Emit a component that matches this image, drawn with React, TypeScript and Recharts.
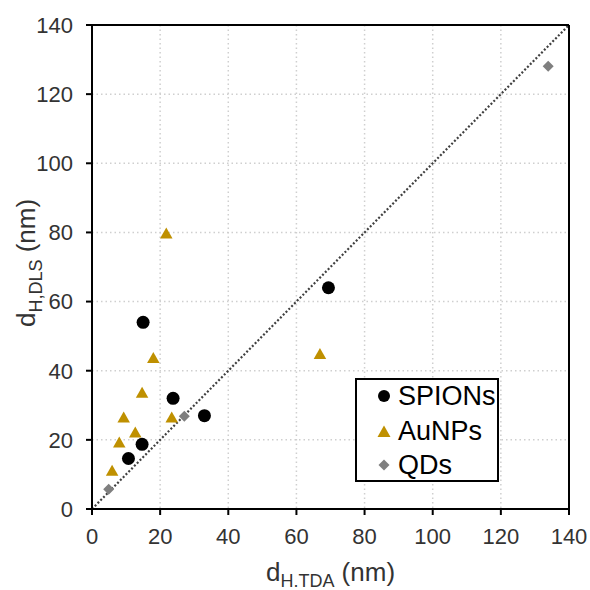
import React from 'react';
import {
  ScatterChart,
  Scatter,
  XAxis,
  YAxis,
  CartesianGrid,
  ReferenceLine,
  Legend,
  Label,
} from 'recharts';

const axisTicks = [0, 20, 40, 60, 80, 100, 120, 140];

const spionsX = [15, 23.8, 33, 14.7, 10.7, 69.4];
const spionsY = [54, 32, 27, 18.7, 14.6, 64];

const aunpsX = [18, 14.7, 9.3, 23.4, 12.7, 8, 5.9, 21.8, 66.9];
const aunpsY = [43.8, 33.8, 26.6, 26.6, 22.3, 19.4, 11.2, 79.8, 45];

const qdsX = [4.9, 27.1, 133.9];
const qdsY = [5.7, 26.8, 128.1];

const seriesNames = ['SPIONs', 'AuNPs', 'QDs'];
const GOLD = '#BF9000';
const GRAY = '#7F7F7F';
const FONT = '"Liberation Sans", Arial, sans-serif';

const toPoints = (xs: number[], ys: number[]) => xs.map((x, i) => ({ x, y: ys[i] }));

const spions = toPoints(spionsX, spionsY);
const aunps = toPoints(aunpsX, aunpsY);
const qds = toPoints(qdsX, qdsY);

const Circle = (props: any) => {
  const { cx, cy } = props;
  if (cx == null || cy == null) return null;
  return <circle cx={cx} cy={cy} r={6.5} fill="#000" />;
};

const Triangle = (props: any) => {
  const { cx, cy } = props;
  if (cx == null || cy == null) return null;
  const w = 12.5;
  const h = 11;
  return (
    <polygon
      points={`${cx - w / 2},${cy + h / 2} ${cx + w / 2},${cy + h / 2} ${cx},${cy - h / 2}`}
      fill={GOLD}
    />
  );
};

const Diamond = (props: any) => {
  const { cx, cy } = props;
  if (cx == null || cy == null) return null;
  const s = 5.5;
  return (
    <polygon
      points={`${cx},${cy - s} ${cx + s},${cy} ${cx},${cy + s} ${cx - s},${cy}`}
      fill={GRAY}
    />
  );
};

const legendMarkers = [
  <circle cx={8} cy={8} r={6} fill="#000" />,
  <polygon points="1.5,14 14.5,14 8,2.5" fill={GOLD} />,
  <polygon points="8,2.5 13.5,8 8,13.5 2.5,8" fill={GRAY} />,
];

const LegendContent = () => (
  <div
    style={{
      width: 144,
      height: 104,
      border: '2px solid #000',
      boxSizing: 'border-box',
      background: '#fff',
      position: 'relative',
      fontFamily: FONT,
    }}
  >
    {seriesNames.map((name, i) => (
      <div
        key={name}
        style={{
          position: 'absolute',
          left: 19,
          top: i * 34.5,
          height: 32,
          display: 'flex',
          alignItems: 'center',
        }}
      >
        <svg width={16} height={16} style={{ marginRight: 6 }}>
          {legendMarkers[i]}
        </svg>
        <span style={{ fontSize: 27, color: '#000', lineHeight: '32px' }}>{name}</span>
      </div>
    ))}
  </div>
);

const XLabel = (props: any) => {
  const vb = props.viewBox || { x: 92, y: 509, width: 477, height: 81 };
  const cx = vb.x + vb.width / 2;
  const by = vb.y + 72;
  return (
    <text x={cx} y={by} textAnchor="middle" fontFamily={FONT} fontSize={26} fill="#333">
      <tspan>d</tspan>
      <tspan fontSize={18} dy={6}>H.TDA</tspan>
      <tspan dy={-6}> (nm)</tspan>
    </text>
  );
};

const YLabel = (props: any) => {
  const vb = props.viewBox || { x: 0, y: 25, width: 92, height: 484 };
  const bx = vb.x + 35;
  const cy = vb.y + vb.height / 2 - 4;
  return (
    <text
      x={bx}
      y={cy}
      textAnchor="middle"
      fontFamily={FONT}
      fontSize={26}
      fill="#333"
      transform={`rotate(-90, ${bx}, ${cy})`}
    >
      <tspan>d</tspan>
      <tspan fontSize={18} dy={7}>H,DLS</tspan>
      <tspan dy={-7}> (nm)</tspan>
    </text>
  );
};

const tickStyle = { fontFamily: FONT, fontSize: 22, fill: '#333' };

export default function App() {
  return (
    <div>
      <style>{'html,body{overflow:hidden;margin:0;padding:0;} svg.recharts-surface{overflow:visible;}'}</style>
      <ScatterChart
        width={590}
        height={590}
        margin={{ top: 25, right: 21, left: 0, bottom: 0 }}
        style={{ background: '#fff' }}
      >
        <CartesianGrid stroke="#cfcfcf" strokeWidth={1.5} strokeDasharray="1.5 3" />
        <XAxis
          type="number"
          dataKey="x"
          domain={[0, 140]}
          ticks={axisTicks}
          interval={0}
          height={81}
          axisLine={{ stroke: '#000', strokeWidth: 2 }}
          tickLine={{ stroke: '#000', strokeWidth: 2 }}
          tickSize={6}
          tickMargin={13}
          tick={tickStyle}
          allowDataOverflow
        >
          <Label content={<XLabel />} position="insideBottom" />
        </XAxis>
        <YAxis
          type="number"
          dataKey="y"
          domain={[0, 140]}
          ticks={axisTicks}
          interval={0}
          width={92}
          axisLine={{ stroke: '#000', strokeWidth: 2 }}
          tickLine={{ stroke: '#000', strokeWidth: 2 }}
          tickSize={6}
          tickMargin={13}
          tick={tickStyle}
          allowDataOverflow
        >
          <Label content={<YLabel />} position="insideLeft" />
        </YAxis>
        <ReferenceLine
          segment={[
            { x: 0, y: 0 },
            { x: 140, y: 140 },
          ]}
          stroke="#404040"
          strokeWidth={2.2}
          strokeDasharray="2 2"
        />
        <ReferenceLine y={140} stroke="#000" strokeWidth={2} />
        <ReferenceLine x={140} stroke="#000" strokeWidth={2} />
        <Scatter name="SPIONs" data={spions} shape={Circle} isAnimationActive={false} />
        <Scatter name="AuNPs" data={aunps} shape={Triangle} isAnimationActive={false} />
        <Scatter name="QDs" data={qds} shape={Diamond} isAnimationActive={false} />
        <Legend
          layout="vertical"
          align="center"
          verticalAlign="middle"
          content={<LegendContent />}
          wrapperStyle={{ position: 'absolute', left: 355, top: 378, width: 144, height: 104 }}
        />
      </ScatterChart>
    </div>
  );
}
